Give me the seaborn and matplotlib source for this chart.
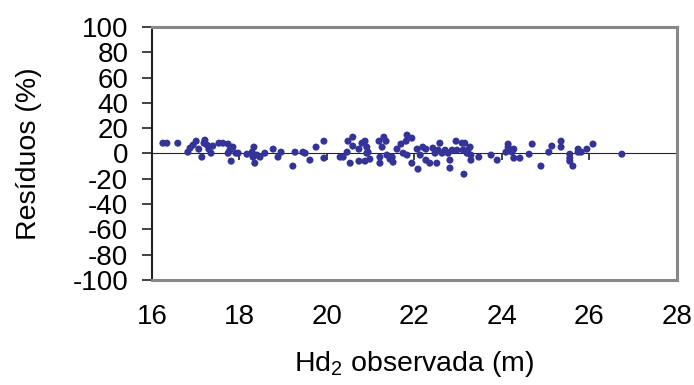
import numpy as np
import pandas as pd
import matplotlib
matplotlib.use("Agg")
import matplotlib.pyplot as plt
import seaborn as sns

hd2_observada = [
    16.25, 16.34, 16.59, 16.82, 16.87, 16.94, 17.01, 17.07, 17.14, 17.19, 17.21, 17.26,
    17.30, 17.35, 17.39, 17.53, 17.62, 17.74, 17.78, 17.74, 17.81, 17.85, 17.92, 17.97,
    18.17, 18.29, 18.33, 18.31, 18.35, 18.40, 18.47, 18.58, 18.77, 18.88, 18.95, 19.22,
    19.27, 19.45, 19.50, 19.61, 19.75, 19.93, 19.93,
    20.30, 20.37, 20.46, 20.48, 20.53, 20.59, 20.59, 20.73, 20.73, 20.80, 20.87, 20.91,
    20.91, 20.94, 20.87, 20.98, 21.19, 21.21, 21.21, 21.26, 21.30, 21.35, 21.37, 21.44,
    21.49, 21.51, 21.60, 21.69, 21.74, 21.81, 21.83, 21.94, 21.94, 21.83, 22.06, 22.08,
    22.13, 22.19, 22.26, 22.26, 22.35, 22.42, 22.51, 22.54, 22.47, 22.58, 22.63, 22.70,
    22.77, 22.81, 22.81, 22.86, 22.95, 22.97, 23.09, 23.11, 23.15, 23.20, 23.22, 23.27,
    23.29, 23.13, 23.29, 23.47, 23.75, 23.89,
    24.09, 24.14, 24.14, 24.23, 24.27, 24.27, 24.41, 24.62, 24.69, 24.89, 25.07, 25.14,
    25.35, 25.35, 25.55, 25.55, 25.55, 25.62, 25.74, 25.74, 25.81, 25.94, 26.08, 26.74,
]
residuos = [
    8.1, 8.1, 8.1, 1.0, 4.2, 6.6, 9.7, 3.4, -2.9, 8.1, 10.5, 6.6,
    3.4, 0.2, 5.8, 8.1, 8.1, 7.4, 2.6, 0.2, -6.1, 5.0, 0.2, 0.2,
    -0.6, 1.0, 5.0, -2.9, -7.7, -1.3, -2.9, 0.2, 3.4, -2.9, 1.0, -10.0,
    1.0, 1.0, 0.2, -5.3, 5.0, 9.7, -3.7,
    -2.9, -2.9, 1.0, 9.7, -7.7, 12.9, 5.8, 3.4, -6.1, 8.1, 9.7, 5.0,
    0.2, 1.0, -6.1, -4.5, 9.7, -2.9, -7.7, 5.0, 12.9, 9.7, -1.3, -4.5,
    -2.9, -6.9, 3.4, 7.4, 0.2, 9.7, 14.5, 12.1, -7.7, -1.3, 3.4, -12.4,
    -1.3, 5.0, -5.3, 3.4, -7.7, 4.2, -7.7, 2.6, 0.2, 8.1, 0.2, 2.6,
    0.2, -5.3, -11.6, 2.6, 9.7, 2.6, 8.1, 2.6, 8.1, 0.2, 2.6, 5.0,
    -1.3, -16.4, -5.3, -2.9, -1.3, -5.3,
    1.0, 7.4, 5.0, 1.0, 3.4, -3.7, -3.7, -0.6, 7.4, -10.0, 1.0, 5.8,
    9.7, 5.0, -0.6, -3.7, -6.1, -10.0, 3.4, 1.0, 1.0, 3.4, 7.4, -0.6,
]
x_ticks = [16, 18, 20, 22, 24, 26, 28]
y_ticks = [-100, -80, -60, -40, -20, 0, 20, 40, 60, 80, 100]

df = pd.DataFrame({"Hd2": hd2_observada, "Residuos": residuos})

sns.set_style("white")
plt.rcParams["font.family"] = ["Liberation Sans", "DejaVu Sans"]
plt.rcParams["mathtext.fontset"] = "custom"
plt.rcParams["mathtext.rm"] = "Liberation Sans"
plt.rcParams["mathtext.it"] = "Liberation Sans"
plt.rcParams["text.color"] = "black"
plt.rcParams["axes.labelcolor"] = "black"
plt.rcParams["xtick.color"] = "black"
plt.rcParams["ytick.color"] = "black"

fig = plt.figure(figsize=(6.94, 3.85), dpi=100)
ax = fig.add_axes([0.219, 0.273, 0.9755 - 0.219, 0.930 - 0.273])

sns.scatterplot(data=df, x="Hd2", y="Residuos", ax=ax, color="#333399",
                s=26, edgecolor="none", linewidth=0, zorder=3)

ax.set_xlim(16, 28)
ax.set_ylim(-100, 100)
ax.set_yticks(y_ticks)
ax.set_yticklabels([str(v) for v in y_ticks])
ax.set_xticks(x_ticks)
ax.set_xticklabels([str(v) for v in x_ticks])

ax.tick_params(axis="y", direction="out", length=7, width=1.2, color="#222222",
               labelsize=20, pad=10, left=True, labelcolor="black")
ax.tick_params(axis="x", length=0, labelsize=20, pad=17, bottom=True,
               labelcolor="black")

for side in ["top", "right", "bottom"]:
    ax.spines[side].set_color("#888888")
    ax.spines[side].set_linewidth(2.2)
ax.spines["left"].set_color("#222222")
ax.spines["left"].set_linewidth(1.5)

# zero axis with downward ticks
sec = ax.secondary_xaxis(0.5)
sec.set_xticks(x_ticks)
sec.tick_params(axis="x", direction="out", length=5, width=1.2, color="#222222",
                labelbottom=False, labeltop=False)
sec.spines["bottom"].set_color("#222222")
sec.spines["bottom"].set_linewidth(1.3)
sec.xaxis.set_ticks_position("bottom")
sec.set_xticklabels([])

ax.set_xlabel("Hd$_2$ observada (m)", fontsize=20.5, labelpad=14, color="black")
ax.set_ylabel("Resíduos (%)", fontsize=20.5, color="black")
ax.yaxis.set_label_coords(-0.21, 0.5)

fig.savefig("out.png", dpi=100)
